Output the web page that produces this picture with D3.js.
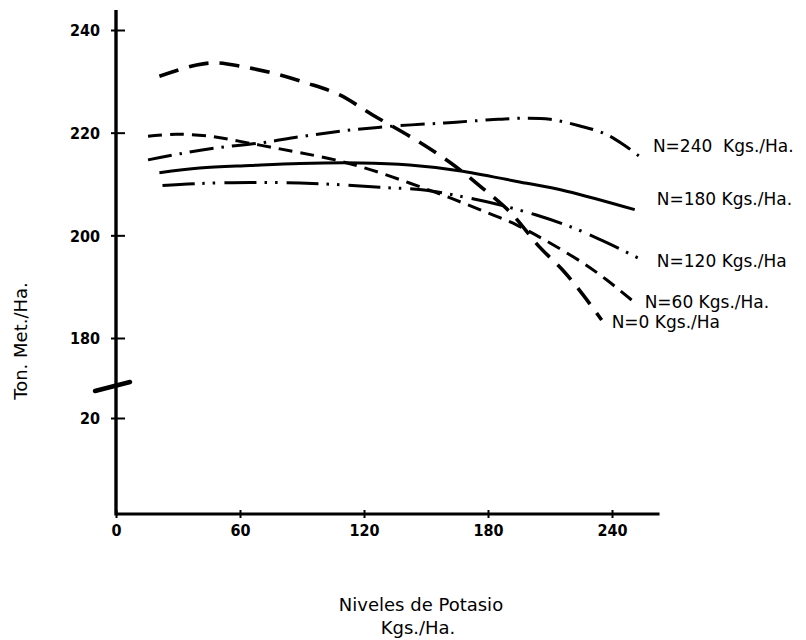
<!DOCTYPE html>
<html>
<head>
<meta charset="utf-8">
<script src="https://cdnjs.cloudflare.com/ajax/libs/d3/7.8.5/d3.min.js"></script>
<style>
  body { margin: 0; background: #fff; }
  svg { display: block; }
  .tick text { font-family: "DejaVu Sans Condensed", "DejaVu Sans", sans-serif; font-stretch: condensed; font-weight: bold; font-size: 16px; fill: #000; }
  .rotulo { font-family: "DejaVu Sans", sans-serif; fill: #000; }
</style>
</head>
<body>
<div id="grafico"></div>
<script>
const kN0 = [21, 39, 49, 62, 76, 92, 108, 124, 145, 162, 177, 191, 205, 216, 226, 235];
const tN0 = [231.0, 233.2, 233.6, 232.8, 231.6, 229.7, 227.4, 223.5, 218.6, 214.1, 209.3, 204.4, 197.7, 193.3, 188.4, 183.5];

const kN60 = [15.5, 29, 45.5, 60, 74.5, 89, 106, 123, 142, 159, 176, 194, 210, 226, 237.5, 249.5];
const tN60 = [219.3, 219.7, 219.3, 218.3, 217.2, 216.1, 214.7, 212.8, 210.2, 207.7, 205.0, 202.0, 198.5, 194.6, 191.3, 187.4];

const kN120 = [22.5, 40.5, 65, 89, 111, 130, 148, 168, 184, 203, 221, 238, 252.5];
const tN120 = [209.7, 210.1, 210.3, 210.2, 209.8, 209.3, 208.9, 207.5, 206.1, 204.0, 201.5, 198.5, 195.6];

const kN180 = [21, 40.5, 65, 89, 118, 142, 166, 194, 218, 251];
const tN180 = [212.2, 213.1, 213.6, 214.0, 214.1, 213.7, 212.6, 210.5, 208.6, 205.0];

const kN240 = [15.5, 31, 50, 70, 89, 111, 135, 159, 181, 195.5, 210, 224.5, 236.5, 246.5, 253.5];
const tN240 = [214.7, 215.9, 217.1, 218.0, 219.2, 220.4, 221.3, 221.9, 222.5, 222.8, 222.6, 221.3, 219.8, 217.4, 215.3];

const nombres = ["N=0 Kgs./Ha", "N=60 Kgs./Ha.", "N=120 Kgs./Ha", "N=180 Kgs./Ha.", "N=240\u00a0\u00a0Kgs./Ha."];

const ticksX = [0, 60, 120, 180, 240];
const ticksY = [20, 180, 200, 220, 240];

// Estilo de cada curva (trazo y posicion del rotulo respecto al final)
const estilos = [
  { ancho: 3.6, guiones: "20,11", dx: 10, dy: 8 },
  { ancho: 3, guiones: "14,8", dx: 13, dy: 8 },
  { ancho: 3, guiones: "32,8,2.5,8,2.5,9", dx: 19, dy: 9 },
  { ancho: 3, guiones: null, dx: 22, dy: -5 },
  { ancho: 3, guiones: "24,8,2.5,8", dx: 13, dy: -5 }
];

const series = [[kN0, tN0], [kN60, tN60], [kN120, tN120], [kN180, tN180], [kN240, tN240]]
  .map(([k, t], i) => ({ nombre: nombres[i], puntos: k.map((v, j) => ({ k: v, t: t[j] })), estilo: estilos[i] }));

const ancho = 806, alto = 640;

const svg = d3.select("#grafico").append("svg")
  .attr("width", ancho)
  .attr("height", alto);

// Eje X lineal, eje Y quebrado entre 20 y 180
const x = d3.scaleLinear().domain([0, 240]).range([116, 612]);
const y = d3.scaleLinear().domain([0, 20, 180, 240]).range([514, 418, 338, 30]);

// Eje X
const ejeX = svg.append("g")
  .attr("transform", `translate(0,${y(0)})`)
  .call(d3.axisBottom(x).tickValues(ticksX).tickSize(0).tickPadding(11));
ejeX.select(".domain").remove();
ejeX.selectAll(".tick line").attr("y1", -4).attr("y2", 4).attr("stroke", "#000").attr("stroke-width", 2);
svg.append("line")
  .attr("x1", x(0)).attr("x2", x(263))
  .attr("y1", y(0)).attr("y2", y(0))
  .attr("stroke", "#000").attr("stroke-width", 3);

// Eje Y
const ejeY = svg.append("g")
  .attr("transform", `translate(${x(0)},0)`)
  .call(d3.axisLeft(y).tickValues(ticksY).tickSize(0).tickPadding(16));
ejeY.select(".domain").remove();
ejeY.selectAll(".tick line").attr("x1", -5).attr("x2", 9).attr("stroke", "#000").attr("stroke-width", 2);
ejeY.selectAll(".tick text").attr("dy", "0.36em");
svg.append("line")
  .attr("x1", x(0)).attr("x2", x(0))
  .attr("y1", y(0) + 1.5).attr("y2", y(243.9))
  .attr("stroke", "#000").attr("stroke-width", 3.4);

// Marca de quiebre del eje Y
const yQuiebre = (y(20) + y(180)) / 2 + 8;
svg.append("line")
  .attr("x1", x(0) - 21).attr("y1", yQuiebre + 5)
  .attr("x2", x(0) + 14).attr("y2", yQuiebre - 4)
  .attr("stroke", "#000").attr("stroke-width", 4.5).attr("stroke-linecap", "round");

// Curvas
const linea = d3.line()
  .x(d => x(d.k))
  .y(d => y(d.t))
  .curve(d3.curveCatmullRom.alpha(0.5));

svg.append("g").selectAll("path")
  .data(series)
  .join("path")
    .attr("d", d => linea(d.puntos))
    .attr("fill", "none")
    .attr("stroke", "#000")
    .attr("stroke-width", d => d.estilo.ancho)
    .attr("stroke-dasharray", d => d.estilo.guiones);

// Rotulos de las curvas
svg.append("g").selectAll("text")
  .data(series)
  .join("text")
    .attr("class", "rotulo")
    .attr("x", d => x(d.puntos[d.puntos.length - 1].k) + d.estilo.dx)
    .attr("y", d => y(d.puntos[d.puntos.length - 1].t) + d.estilo.dy)
    .attr("font-size", 17)
    .text(d => d.nombre);

// Titulos de los ejes
svg.append("text")
  .attr("class", "rotulo")
  .attr("transform", "translate(27,341) rotate(-90)")
  .attr("text-anchor", "middle")
  .attr("font-size", 18)
  .text("Ton. Met./Ha.");

svg.append("text")
  .attr("class", "rotulo")
  .attr("x", 421).attr("y", 611)
  .attr("text-anchor", "middle")
  .attr("font-size", 18)
  .text("Niveles de Potasio");

svg.append("text")
  .attr("class", "rotulo")
  .attr("x", 418).attr("y", 634)
  .attr("text-anchor", "middle")
  .attr("font-size", 18)
  .text("Kgs./Ha.");
</script>
</body>
</html>
